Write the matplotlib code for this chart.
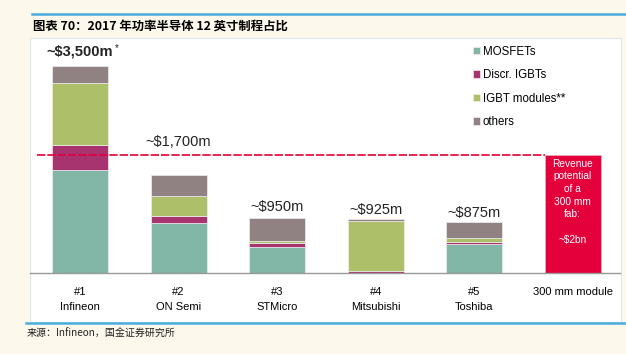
import matplotlib.pyplot as plt
import numpy as np
from matplotlib.patches import Rectangle
from matplotlib.lines import Line2D

# values in $m
companies = ["Infineon", "ON Semi", "STMicro", "Mitsubishi", "Toshiba"]
ranks = ["#1", "#2", "#3", "#4", "#5"]
mosfets = [1750, 840, 440, 0, 490]
discr_igbts = [420, 130, 70, 35, 35]
igbt_modules = [1035, 335, 25, 840, 60]
others = [295, 355, 395, 45, 275]
total_labels = ["~$3,500m", "~$1,700m", "~$950m", "~$925m", "~$875m"]
fab_potential = 2000
fab_label = "300 mm module"
fab_text = "Revenue\npotential\nof a\n300 mm\nfab:\n\n~$2bn"

series = [("MOSFETs", mosfets, "#82b6a6"),
          ("Discr. IGBTs", discr_igbts, "#a8346f"),
          ("IGBT modules**", igbt_modules, "#adbf68"),
          ("others", others, "#908282")]
red = "#e4003a"
cream = "#fdf8ec"
blue = "#4aacdf"

plt.rcParams['font.family'] = ['Liberation Sans', 'DejaVu Sans']

fig = plt.figure(figsize=(6.26, 3.54), dpi=100, facecolor=cream)

# white panel with thin frame
fig.patches.append(Rectangle((30/626, 1-322/354), 591/626, 284/354, transform=fig.transFigure,
                             facecolor="white", edgecolor="#dde6ea", lw=0.8, zorder=-5))
fig.lines.append(Line2D([32/626, 1], [1-14/354, 1-14/354], transform=fig.transFigure,
                        color=blue, lw=1.8))
fig.lines.append(Line2D([26/626, 1], [1-323/354, 1-323/354], transform=fig.transFigure,
                        color=blue, lw=1.8))

fig.text(33/626, 1-26/354, "图表 70：2017 年功率半导体 12 英寸制程占比", fontsize=8.9,
         fontweight="bold", style="italic", va="center", ha="left",
         family=["Noto Sans CJK SC", "DejaVu Sans"])
fig.text(27/626, 1-334/354, "来源：Infineon，国金证券研究所", fontsize=7.2, va="center", ha="left",
         family=["Noto Sans CJK SC", "DejaVu Sans"], color="#222222")

ax = fig.add_axes([30/626, 1-273/354, 590/626, 233/354], zorder=2)
ax.set_facecolor("none")

x = np.arange(len(companies))
w = 0.57
bottom = np.zeros(len(companies))
for name, vals, col in series:
    ax.bar(x, vals, w, bottom=bottom, color=col, edgecolor="#eeeeee", lw=0.5, label=name)
    bottom += np.array(vals)

fab_x = len(companies)
ax.bar(fab_x, fab_potential, w, color=red, edgecolor="#f3b0c0", lw=0.5)
ax.text(fab_x, fab_potential * 0.965, fab_text, color="white", fontsize=7.3, ha="center",
        va="top", linespacing=1.33)

ax.hlines(fab_potential, -0.44, fab_x - w / 2, colors=red, linestyles=(0, (5, 1.2)), lw=1.2)

# total labels above the bars (pixel offsets)
offsets = [15, 33, 11, 9, 9.5]
for i, lab in enumerate(total_labels):
    bold = i == 0
    ax.annotate(lab, (x[i], bottom[i]), xytext=(0, offsets[i] * 0.72), textcoords="offset points",
                ha="center", va="center", fontsize=10.5,
                fontweight="bold" if bold else "normal", color="#222222")
ax.annotate("*", (x[0], bottom[0]), xytext=(37 * 0.72, 18 * 0.72), textcoords="offset points",
            ha="center", va="center", fontsize=7, color="#222222")

ax.set_xlim(-0.508, 5.48)
ax.set_ylim(0, 233 * 3500 / 207)
ax.set_xticks(list(x) + [fab_x])
ax.set_xticklabels([r + "\n" + c for r, c in zip(ranks, companies)] + [fab_label],
                   fontsize=8, linespacing=1.6, va="top")
ax.tick_params(axis="x", length=0, pad=10)
ax.set_yticks([])
for s in ["top", "right", "left"]:
    ax.spines[s].set_visible(False)
ax.spines["bottom"].set_color("#999999")
ax.spines["bottom"].set_linewidth(1.0)

ax.legend(loc="upper left", bbox_to_anchor=(468/626, 1-41/354), bbox_transform=fig.transFigure,
          frameon=False, fontsize=8.3, handlelength=0.65, handleheight=0.65, handletextpad=0.25,
          labelspacing=1.0, borderaxespad=0)

fig.savefig("out.png", dpi=100, facecolor=cream)
